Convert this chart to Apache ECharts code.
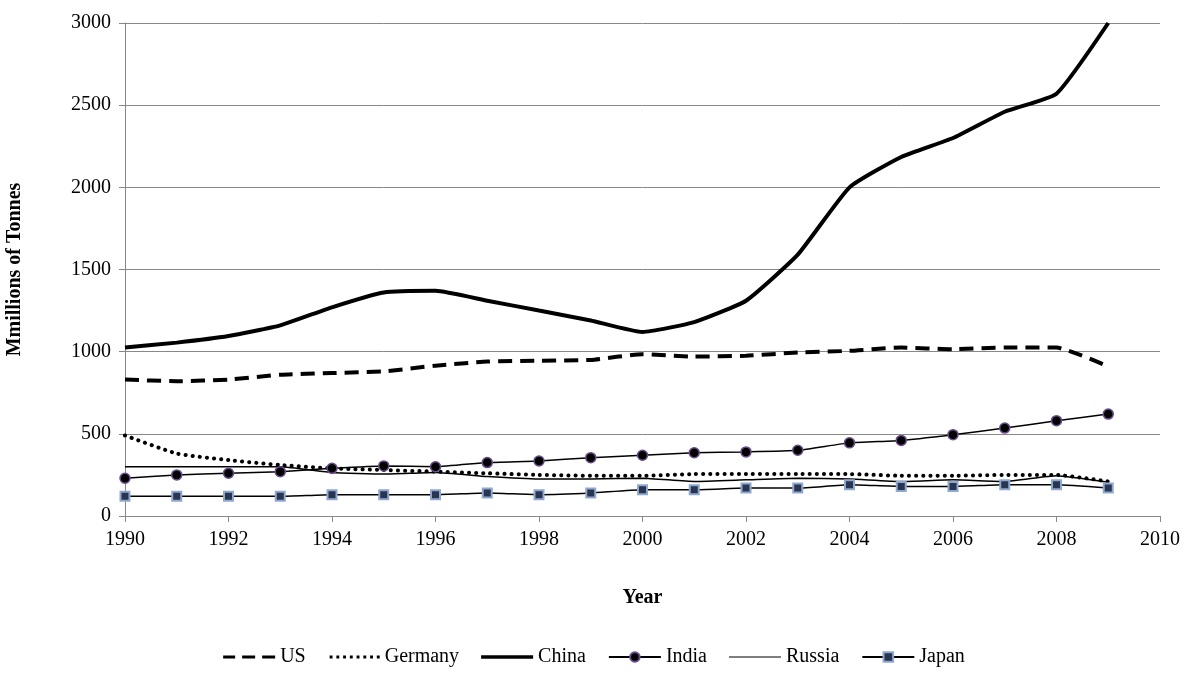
<!DOCTYPE html>
<html><head><meta charset="utf-8">
<script src="https://cdn.jsdelivr.net/npm/echarts@6/dist/echarts.min.js"></script>
<style>html,body{margin:0;padding:0;background:#fff}#c{width:1188px;height:674px}</style>
</head><body><div id="c"></div>
<script>
var years = [1990,1991,1992,1993,1994,1995,1996,1997,1998,1999,2000,2001,2002,2003,2004,2005,2006,2007,2008,2009];
var us = [830,820,830,860,870,880,915,940,945,950,985,970,975,995,1005,1025,1015,1025,1025,910];
var germany = [490,380,340,310,290,280,270,260,250,245,245,255,255,255,255,245,245,250,250,210];
var china = [1025,1055,1095,1160,1270,1360,1370,1310,1250,1190,1120,1180,1310,1590,2000,2185,2300,2460,2570,3000];
var india = [230,250,260,270,290,305,300,325,335,355,370,385,390,400,445,460,495,535,580,620];
var russia = [300,300,300,300,265,255,265,240,225,225,230,210,220,230,225,210,220,210,245,205];
var japan = [120,120,120,120,130,130,130,140,130,140,160,160,170,170,190,180,180,190,190,170];

var font = 'Liberation Serif';
// corner specks keep the icon box at 52x12 so bars sit in the middle
var box = 'M0,0L0.01,0L0,0.01Z M52,12L51.99,12L52,11.99Z ';
var icons = {
	US: box + 'M0,4.5h12v3h-12Z M19,4.5h13v3h-13Z M39,4.5h13v3h-13Z',
	Germany: box + (function() { var s = ''; for (var x = 2; x < 52; x += 7) s += 'M' + x + ',4.5h3v3h-3Z '; return s; })(),
	China: box + 'M0,4.3h52v3.4h-52Z',
	Russia: box + 'M0,5.4h52v1.2h-52Z'
};
function pairs(v) { return years.map(function(y, i) { return [y, v[i]]; }); }
function line(name, v, width, type, extra) {
	var s = {
		name: name, type: 'line', data: pairs(v), smooth: 0.15,
		symbol: 'none', lineStyle: {color: '#000', width: width, type: type},
		itemStyle: {color: '#000'}
	};
	for (var k in extra) s[k] = extra[k];
	return s;
}
var chart = echarts.init(document.getElementById('c'));
chart.setOption({
	animation: false,
	textStyle: {fontFamily: font},
	grid: {left: 125, right: 28, top: 23, bottom: 158, containLabel: false, outerBoundsMode: 'none'},
	xAxis: {
		type: 'value', min: 1990, max: 2010, interval: 2,
		name: 'Year', nameLocation: 'middle', nameGap: 72,
		nameTextStyle: {fontFamily: font, fontSize: 20, fontWeight: 'bold', color: '#000'},
		axisLine: {lineStyle: {color: '#888'}},
		axisTick: {show: true, length: 6, lineStyle: {color: '#888'}},
		axisLabel: {fontFamily: font, fontSize: 20, color: '#000', margin: 14, formatter: function(v) { return String(v); }},
		splitLine: {show: false}
	},
	yAxis: {
		type: 'value', min: 0, max: 3000, interval: 500,
		name: 'Mmillions of Tonnes', nameLocation: 'middle', nameGap: 100,
		nameTextStyle: {fontFamily: font, fontSize: 20, fontWeight: 'bold', color: '#000'},
		axisLine: {show: true, lineStyle: {color: '#888'}},
		axisTick: {show: true, length: 6, lineStyle: {color: '#888'}},
		axisLabel: {fontFamily: font, fontSize: 20, color: '#000', margin: 14, formatter: function(v) { return String(v); }},
		splitLine: {lineStyle: {color: '#888'}}
	},
	legend: {
		bottom: 2, left: 'center', itemWidth: 52, itemHeight: 12, itemGap: 22,
		textStyle: {fontFamily: font, fontSize: 20, color: '#000'},
		data: [
			{name: 'US', icon: 'path://' + icons.US},
			{name: 'Germany', icon: 'path://' + icons.Germany},
			{name: 'China', icon: 'path://' + icons.China},
			{name: 'India'},
			{name: 'Russia', icon: 'path://' + icons.Russia},
			{name: 'Japan'}
		]
	},
	series: [
		line('US', us, 4, [14, 8]),
		line('Germany', germany, 4, [0.1, 7], {lineStyle: {color: '#000', width: 4, type: [0.1, 7], cap: 'round'}}),
		line('China', china, 4, 'solid'),
		line('India', india, 1.5, 'solid', {symbol: 'circle', symbolSize: 10,
			itemStyle: {color: '#000', borderColor: '#6a4c8c', borderWidth: 1.5}}),
		line('Russia', russia, 1.5, 'solid'),
		line('Japan', japan, 1.5, 'solid', {symbol: 'rect', symbolSize: 9,
			itemStyle: {color: '#2a3550', borderColor: '#8fa8d0', borderWidth: 2}})
	]
});
</script></body></html>
